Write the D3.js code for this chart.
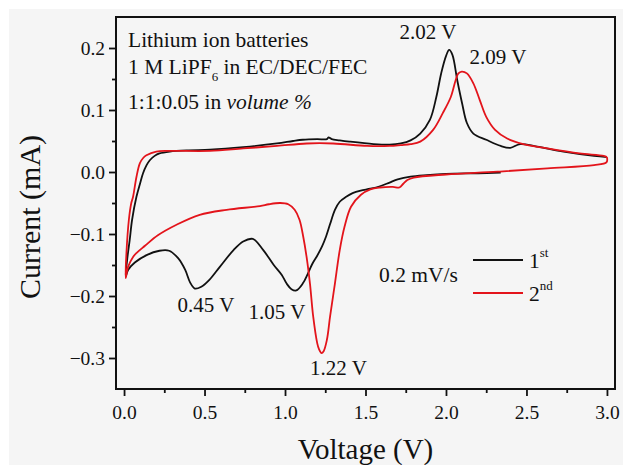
<!DOCTYPE html>
<html>
<head>
<meta charset="utf-8">
<script src="https://cdn.jsdelivr.net/npm/d3@7"></script>
<style>
  body { margin: 0; background: #fff; }
  svg text { font-family: "Liberation Serif", "Times New Roman", serif; fill: #111; }
  .axis path { display: none; }
  .axis line { stroke: #111; stroke-width: 1.8; }
</style>
</head>
<body>
<div id="chart"></div>
<script>
// 1st cycle: starts at OCV, sweeps down to 0.01 V then up to 3.0 V  [voltage V, current mA]
const cycle1 = [
  [2.34,-0.001],[2.20,-0.002],[2.00,-0.003],[1.88,-0.005],[1.78,-0.0075],[1.70,-0.012],
  [1.65,-0.017],[1.59,-0.023],[1.53,-0.027],[1.47,-0.030],[1.42,-0.034],[1.38,-0.040],
  [1.34,-0.048],[1.31,-0.061],[1.28,-0.084],[1.255,-0.104],[1.23,-0.120],[1.20,-0.135],
  [1.17,-0.148],[1.14,-0.165],[1.11,-0.180],[1.07,-0.191],[1.04,-0.189],[1.01,-0.180],
  [0.98,-0.166],[0.93,-0.150],[0.865,-0.126],[0.80,-0.108],[0.74,-0.112],[0.68,-0.126],
  [0.595,-0.153],[0.53,-0.174],[0.48,-0.185],[0.44,-0.188],[0.41,-0.178],[0.38,-0.158],
  [0.336,-0.139],[0.28,-0.127],[0.22,-0.127],[0.14,-0.134],[0.067,-0.146],[0.025,-0.158],
  [0.01,-0.169],
  [0.02,-0.14],[0.035,-0.11],[0.05,-0.077],[0.077,-0.040],[0.10,-0.018],[0.118,-0.002],
  [0.14,0.011],[0.16,0.019],[0.19,0.026],[0.22,0.030],[0.284,0.033],[0.40,0.035],
  [0.534,0.036],[0.74,0.040],[0.95,0.046],[1.05,0.050],[1.11,0.052],[1.20,0.053],
  [1.26,0.053],[1.27,0.056],[1.29,0.053],[1.34,0.051],[1.40,0.049],[1.55,0.045],
  [1.65,0.044],[1.72,0.046],[1.78,0.051],[1.84,0.062],[1.90,0.084],[1.94,0.121],
  [1.97,0.159],[2.00,0.187],[2.02,0.197],[2.04,0.189],[2.07,0.148],[2.10,0.111],
  [2.13,0.079],[2.17,0.062],[2.25,0.052],[2.34,0.042],[2.40,0.039],[2.46,0.045],
  [2.565,0.041],[2.73,0.033],[2.92,0.026],[3.0,0.024]
];

// 2nd cycle: from 3.0 V down to 0.01 V and back to 3.0 V
const cycle2 = [
  [3.0,0.024],[2.998,0.016],[2.92,0.011],[2.63,0.006],[2.32,0.0005],[2.0,-0.004],
  [1.80,-0.009],[1.76,-0.013],[1.735,-0.019],[1.71,-0.025],[1.67,-0.024],[1.59,-0.025],
  [1.53,-0.028],[1.47,-0.037],[1.41,-0.056],[1.37,-0.088],[1.34,-0.126],[1.31,-0.18],
  [1.28,-0.233],[1.26,-0.271],[1.24,-0.289],[1.227,-0.292],[1.21,-0.285],[1.20,-0.276],
  [1.175,-0.233],[1.155,-0.18],[1.134,-0.137],[1.113,-0.104],[1.09,-0.077],[1.06,-0.061],
  [1.02,-0.052],[0.97,-0.050],[0.90,-0.052],[0.844,-0.055],[0.637,-0.061],[0.47,-0.069],
  [0.326,-0.085],[0.21,-0.102],[0.13,-0.119],[0.08,-0.130],[0.056,-0.137],[0.025,-0.153],
  [0.01,-0.171],
  [0.015,-0.13],[0.03,-0.077],[0.045,-0.050],[0.056,-0.040],[0.077,-0.008],[0.098,0.014],
  [0.12,0.023],[0.139,0.027],[0.20,0.033],[0.284,0.034],[0.534,0.034],[0.74,0.038],
  [0.95,0.042],[1.134,0.046],[1.30,0.046],[1.51,0.042],[1.65,0.042],[1.72,0.0435],
  [1.78,0.045],[1.84,0.049],[1.92,0.068],[1.98,0.095],[2.03,0.121],[2.06,0.148],
  [2.077,0.159],[2.098,0.162],[2.13,0.159],[2.17,0.143],[2.21,0.116],[2.25,0.089],
  [2.305,0.068],[2.38,0.054],[2.48,0.045],[2.63,0.038],[2.83,0.030],[2.98,0.026],[3.0,0.024]
];

const xTicks = [0, 0.5, 1.0, 1.5, 2.0, 2.5, 3.0];
const xMinor = [0.25, 0.75, 1.25, 1.75, 2.25, 2.75];
const yTicks = [-0.3, -0.2, -0.1, 0.0, 0.1, 0.2];
const yMinor = [-0.25, -0.15, -0.05, 0.05, 0.15];

// peak labels: [label centre voltage, current at text baseline, text]
const peakLabels = [
  [1.888, 0.2145, "2.02 V"],
  [2.323, 0.174, "2.09 V"],
  [0.509, -0.226, "0.45 V"],
  [0.95, -0.237, "1.05 V"],
  [1.332, -0.327, "1.22 V"]
];

const legendNames = [["1", "st"], ["2", "nd"]];
const colors = ["#111111", "#e3141b"];

const fullWidth = 626;
const fullHeight = 465;
const margin = { top: 17, right: 11, bottom: 76, left: 116 };
const width = fullWidth - margin.left - margin.right;
const height = fullHeight - margin.top - margin.bottom;

const root = d3.select("#chart")
  .append("svg")
  .attr("width", fullWidth)
  .attr("height", fullHeight);

// light grey paper
root.append("rect")
  .attr("x", 9).attr("y", 9)
  .attr("width", fullWidth - 12).attr("height", fullHeight - 9)
  .attr("fill", "#f5f5f5");

const svg = root.append("g")
  .attr("transform", `translate(${margin.left},${margin.top})`);

const x = d3.scaleLinear().domain([-0.05, 3.05]).range([0, width]);
const y = d3.scaleLinear().domain([-0.35, 0.25]).range([height, 0]);

svg.append("clipPath").attr("id", "clip")
  .append("rect").attr("width", width).attr("height", height);

const line = d3.line()
  .x(d => x(d[0]))
  .y(d => y(d[1]))
  .curve(d3.curveCatmullRom.alpha(0.5));

const curves = svg.append("g").attr("clip-path", "url(#clip)");
[cycle1, cycle2].forEach((data, i) => {
  curves.append("path")
    .datum(data)
    .attr("fill", "none")
    .attr("stroke", colors[i])
    .attr("stroke-width", 1.8)
    .attr("stroke-linejoin", "round")
    .attr("d", line);
});

// axes
const fmt = d3.format(".1f");
svg.append("g").classed("axis", true)
  .attr("transform", `translate(0,${height})`)
  .call(d3.axisBottom(x).tickValues(xTicks).tickFormat(fmt).tickSize(7).tickPadding(9))
  .call(g => g.selectAll("text").attr("font-size", 19.5).attr("fill", "#111"));
svg.append("g").classed("axis", true)
  .attr("transform", `translate(0,${height})`)
  .call(d3.axisBottom(x).tickValues(xMinor).tickFormat("").tickSize(4));

svg.append("g").classed("axis", true)
  .call(d3.axisLeft(y).tickValues(yTicks).tickFormat(fmt).tickSize(7).tickPadding(4))
  .call(g => g.selectAll("text").attr("font-size", 19.5).attr("fill", "#111"));
svg.append("g").classed("axis", true)
  .call(d3.axisLeft(y).tickValues(yMinor).tickFormat("").tickSize(4));

// frame
svg.append("rect")
  .attr("width", width).attr("height", height)
  .attr("fill", "none").attr("stroke", "#111").attr("stroke-width", 2);

// axis titles
root.append("text")
  .attr("x", margin.left + width / 2).attr("y", 459)
  .attr("text-anchor", "middle").attr("font-size", 29)
  .text("Voltage (V)");
root.append("text")
  .attr("transform", "translate(40,217) rotate(-90)")
  .attr("text-anchor", "middle").attr("font-size", 30)
  .text("Current (mA)");

// electrolyte info
const info = svg.append("g").attr("font-size", 21.5);
info.append("text").attr("x", 12).attr("y", 30).text("Lithium ion batteries");
const t2 = info.append("text").attr("x", 12).attr("y", 57);
t2.append("tspan").text("1 M LiPF");
t2.append("tspan").attr("dy", 7).attr("font-size", 13).text("6");
t2.append("tspan").attr("dy", -7).text(" in EC/DEC/FEC");
const t3 = info.append("text").attr("x", 12).attr("y", 92);
t3.append("tspan").text("1:1:0.05 in ");
t3.append("tspan").attr("font-style", "italic").text("volume %");

// peak labels
svg.append("g").attr("font-size", 21)
  .selectAll("text")
  .data(peakLabels)
  .enter()
  .append("text")
  .attr("x", d => x(d[0]))
  .attr("y", d => y(d[1]))
  .attr("text-anchor", "middle")
  .text(d => d[2]);

// legend
root.append("text").attr("x", 379).attr("y", 282).attr("font-size", 21.5).text("0.2 mV/s");
const legend = root.append("g");
legendNames.forEach((n, i) => {
  const ly = 260 + i * 33;
  legend.append("line")
    .attr("x1", 473).attr("x2", 523).attr("y1", ly).attr("y2", ly)
    .attr("stroke", colors[i]).attr("stroke-width", 1.8);
  const t = legend.append("text").attr("x", 529).attr("y", ly + 7.5).attr("font-size", 21.5);
  t.append("tspan").text(n[0]);
  t.append("tspan").attr("dy", -11).attr("font-size", 13).text(n[1]);
});
</script>
</body>
</html>
